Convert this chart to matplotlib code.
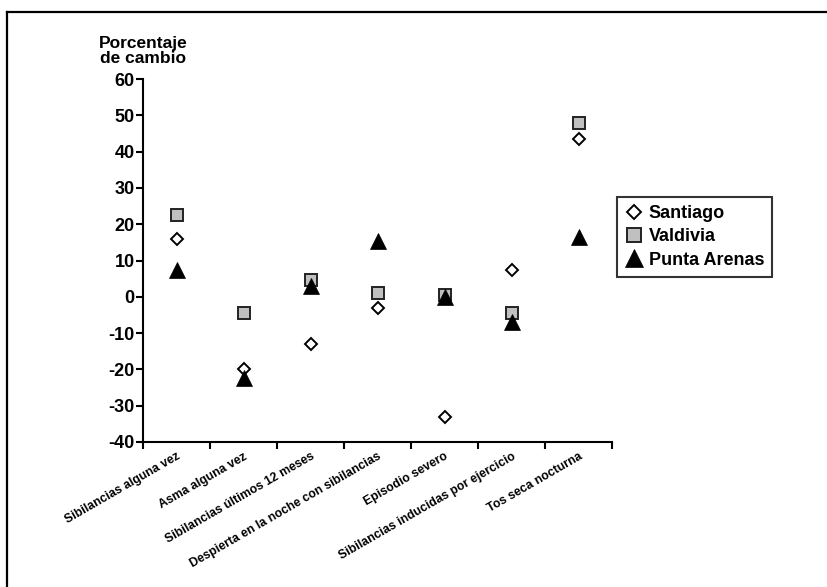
import numpy as np
import matplotlib
matplotlib.use("Agg")
import matplotlib.pyplot as plt
from matplotlib.lines import Line2D

plt.rcParams['font.family'] = ['Liberation Sans', 'DejaVu Sans']
plt.rcParams['font.weight'] = 'bold'
plt.rcParams['axes.unicode_minus'] = False

# Data (percent change)
categories = ["Sibilancias alguna vez", "Asma alguna vez", "Sibilancias últimos 12 meses",
              "Despierta en la noche con sibilancias", "Episodio severo",
              "Sibilancias inducidas por ejercicio", "Tos seca nocturna"]
santiago = [16, -20, -13, -3, -33, 7.5, 43.5]
valdivia = [22.5, -4.5, 4.5, 1, 0.5, -4.5, 48]
punta_arenas = [7.5, -22.5, 3, 15.5, 0, -7, 16.5]

fig = plt.figure(figsize=(8.27, 5.87), dpi=100)
W, H = 827, 587
ax = fig.add_axes([143 / W, 1 - 442 / H, (612 - 143) / W, (442 - 79) / H])

x = np.arange(len(categories))
ax.plot(x, valdivia, 's', ms=8.7, mfc='#c0c0c0', mec='#222222', mew=1.4, ls='none',
        label='Valdivia', zorder=3)
ax.plot(x, santiago, 'D', ms=6.6, mfc='white', mec='black', mew=1.4, ls='none',
        label='Santiago', zorder=4)
ax.plot(x, punta_arenas, '^', ms=11.5, mfc='black', mec='black', mew=0.5, ls='none',
        label='Punta Arenas', zorder=5)

ax.set_xlim(-0.5, len(categories) - 0.5)
ax.set_ylim(-40, 60)
ax.set_yticks(np.arange(-40, 61, 10))
ax.tick_params(axis='y', labelsize=13, width=1.5, length=5, pad=1)

# major ticks at category boundaries, labels on minor ticks at centres
ax.set_xticks(np.arange(-0.5, len(categories), 1.0))
ax.set_xticklabels([])
ax.tick_params(axis='x', which='major', width=1.5, length=5)
ax.set_xticks(x, minor=True)
ax.set_xticklabels(categories, minor=True, rotation=30, ha='right',
                   rotation_mode='anchor', fontsize=8.8, fontweight='bold')
ax.tick_params(axis='x', which='minor', length=0, pad=6)

for s in ['top', 'right']:
    ax.spines[s].set_visible(False)
for s in ['left', 'bottom']:
    ax.spines[s].set_linewidth(1.5)

fig.text(143 / W, 1 - 51 / H, "Porcentaje\nde cambio", ha='center', va='center',
         fontsize=12.5, fontweight='bold', linespacing=1.0)

handles = [
    Line2D([], [], marker='D', ms=7.5, mfc='white', mec='black', mew=1.4, ls='none'),
    Line2D([], [], marker='s', ms=9.5, mfc='#c0c0c0', mec='#222222', mew=1.4, ls='none'),
    Line2D([], [], marker='^', ms=13, mfc='black', mec='black', mew=0.5, ls='none'),
]
leg = fig.legend(handles, ['Santiago', 'Valdivia', 'Punta Arenas'], loc='upper left',
                 bbox_to_anchor=(617 / W, 1 - 197 / H), bbox_transform=fig.transFigure,
                 borderaxespad=0, frameon=True, fancybox=False, handlelength=1.0,
                 handletextpad=0.3, labelspacing=0.35, borderpad=0.45,
                 prop={'size': 13, 'weight': 'bold'})
leg.get_frame().set_edgecolor('black')
leg.get_frame().set_linewidth(1.5)

# outer frame (only top and left visible)
fig.add_artist(Line2D([7 / W, 7 / W], [0, 1 - 12 / H], color='black', lw=1.6,
                      transform=fig.transFigure))
fig.add_artist(Line2D([7 / W, 1], [1 - 12 / H, 1 - 12 / H], color='black', lw=1.6,
                      transform=fig.transFigure))

fig.savefig("out.png", dpi=100)
